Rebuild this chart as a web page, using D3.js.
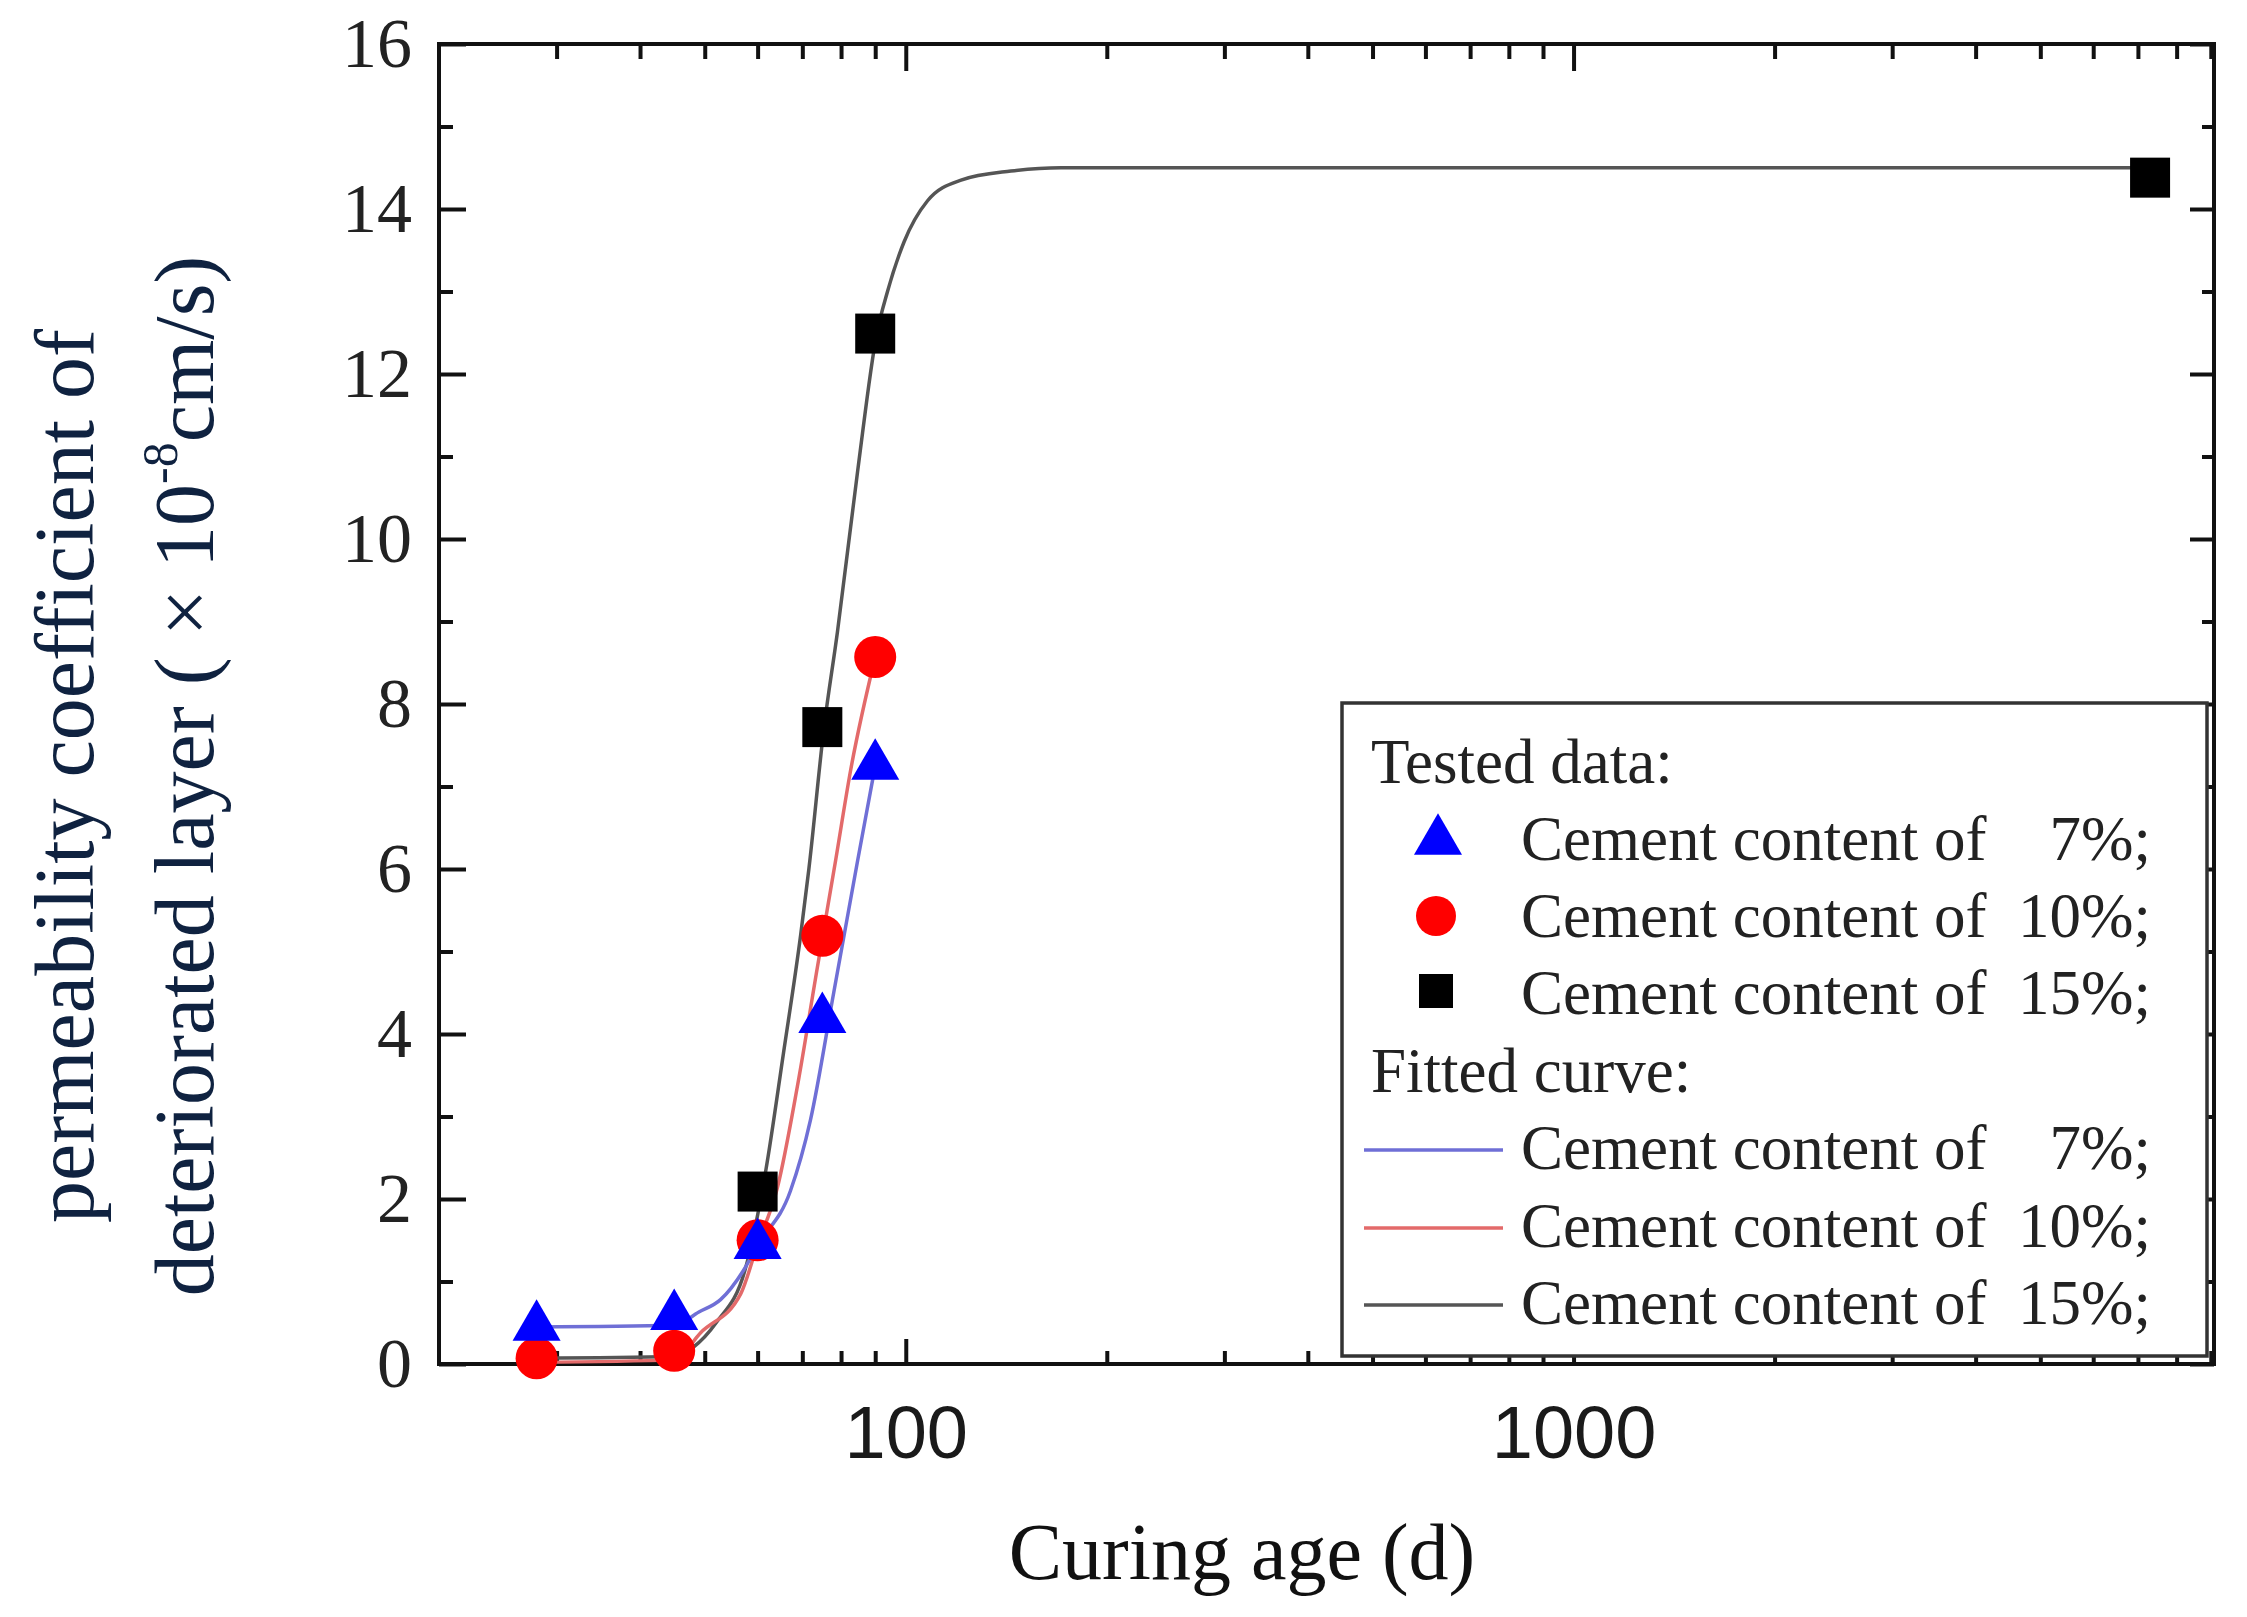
<!DOCTYPE html>
<html>
<head>
<meta charset="utf-8">
<script src="https://cdn.jsdelivr.net/npm/d3@7"></script>
<style>
  body { margin: 0; background: #fff; }
  svg { display: block; }
</style>
</head>
<body>
<svg width="2247" height="1617"></svg>
<script>
// tested points (curing age in days, permeability x1e-8 cm/s)
const ages = [28, 45, 60, 75, 90];
const tested7 = [0.45, 0.58, 1.44, 4.18, 7.25];
const tested10 = [0.07, 0.16, 1.5, 5.19, 8.57];
const ages15 = [60, 75, 90, 7300];
const tested15 = [2.09, 7.72, 12.49, 14.38];

// fitted curves
const fit7Ages = [28, 45, 49, 52.8, 57.2, 60, 67.2, 72, 78, 84.7, 90];
const fit7 = [0.45, 0.47, 0.63, 0.78, 1.14, 1.44, 2.1, 2.96, 4.5, 6.1, 7.25];
const fit10Ages = [28, 45, 49.3, 56.6, 60, 64.2, 68.8, 73.7, 78.5, 82.7, 90];
const fit10 = [0.02, 0.05, 0.38, 0.85, 1.45, 2.13, 3.36, 4.8, 6.1, 7.2, 8.57];
const fit15Ages = [28, 45, 48, 52, 57.5, 61.7, 65.6, 69.6, 71.6, 75.4, 79, 84.7, 90.5, 93.9, 99.4, 107.8, 121, 143.7, 170.8, 7300];
const fit15 = [0.07, 0.09, 0.2, 0.5, 1.15, 2.34, 3.77, 5.2, 6.0, 7.7, 8.87, 10.82, 12.49, 13.0, 13.6, 14.1, 14.35, 14.46, 14.5, 14.5];

const xMajor = [100, 1000];
const xMinor = [30, 40, 50, 60, 70, 80, 90, 200, 300, 400, 500, 600, 700, 800, 900,
                2000, 3000, 4000, 5000, 6000, 7000, 8000, 9000];
const yMajor = [0, 2, 4, 6, 8, 10, 12, 14, 16];
const yMinor = [1, 3, 5, 7, 9, 11, 13, 15];

const legendLabels = ["7%;", "10%;", "15%;"];

const svg = d3.select("svg");
const serif = "'Liberation Serif', 'Times New Roman', serif";
const sans = "'Liberation Sans', Arial, sans-serif";

const L = 439, R = 2214, T = 44, B = 1364;
const x = d3.scaleLog().domain([20, 9100]).range([L, R]);
const y = d3.scaleLinear().domain([0, 16]).range([B, T]);

const zip = (a, b) => a.map((v, i) => [v, b[i]]);

// axes: ticks point inward on all four sides
function styleAxis(g) {
  g.select(".domain").remove();
  g.selectAll(".tick line").attr("stroke", "#111").attr("stroke-width", 4);
}
svg.append("g").attr("transform", `translate(0,${B})`)
  .call(d3.axisBottom(x).tickValues(xMajor).tickSize(-25).tickPadding(41).tickFormat(d3.format("d")))
  .call(styleAxis)
  .selectAll("text").attr("font-family", sans).attr("font-size", 74).attr("fill", "#1a1a1a");
svg.append("g").attr("transform", `translate(0,${B})`)
  .call(d3.axisBottom(x).tickValues(xMinor).tickSize(-13).tickFormat(""))
  .call(styleAxis);
svg.append("g").attr("transform", `translate(0,${T})`)
  .call(d3.axisTop(x).tickValues(xMajor).tickSize(-27).tickFormat(""))
  .call(styleAxis);
svg.append("g").attr("transform", `translate(0,${T})`)
  .call(d3.axisTop(x).tickValues(xMinor).tickSize(-15).tickFormat(""))
  .call(styleAxis);
svg.append("g").attr("transform", `translate(${L},0)`)
  .call(d3.axisLeft(y).tickValues(yMajor).tickSize(-27).tickPadding(27))
  .call(styleAxis)
  .selectAll("text").attr("font-family", serif).attr("font-size", 70).attr("fill", "#222");
svg.append("g").attr("transform", `translate(${L},0)`)
  .call(d3.axisLeft(y).tickValues(yMinor).tickSize(-14).tickFormat(""))
  .call(styleAxis);
svg.append("g").attr("transform", `translate(${R},0)`)
  .call(d3.axisRight(y).tickValues(yMajor).tickSize(-24).tickFormat(""))
  .call(styleAxis);
svg.append("g").attr("transform", `translate(${R},0)`)
  .call(d3.axisRight(y).tickValues(yMinor).tickSize(-12).tickFormat(""))
  .call(styleAxis);

svg.append("rect").attr("x", L).attr("y", T).attr("width", R - L).attr("height", B - T)
  .attr("fill", "none").attr("stroke", "#111").attr("stroke-width", 4);

// fitted curves
const line = d3.line().x(d => x(d[0])).y(d => y(d[1])).curve(d3.curveMonotoneX);
const curves = [
  {pts: zip(fit15Ages, fit15), color: "#555555"},
  {pts: zip(fit10Ages, fit10), color: "#e36a6a"},
  {pts: zip(fit7Ages, fit7), color: "#6f6fd6"}
];
svg.selectAll(".fit").data(curves).join("path")
  .attr("class", "fit")
  .attr("d", d => line(d.pts))
  .attr("fill", "none").attr("stroke", d => d.color).attr("stroke-width", 3.5);

// tested markers: squares, circles, then triangles on top
svg.selectAll(".sq").data(zip(ages15, tested15)).join("rect")
  .attr("class", "sq")
  .attr("x", d => x(d[0]) - 20).attr("y", d => y(d[1]) - 20)
  .attr("width", 40).attr("height", 40).attr("fill", "#000");
svg.selectAll(".ci").data(zip(ages, tested10)).join("circle")
  .attr("class", "ci")
  .attr("cx", d => x(d[0])).attr("cy", d => y(d[1])).attr("r", 21).attr("fill", "#ff0000");
const tri = d3.symbol().type(d3.symbolTriangle).size(1000);
svg.selectAll(".tr").data(zip(ages, tested7)).join("path")
  .attr("class", "tr")
  .attr("d", tri)
  .attr("transform", d => `translate(${x(d[0])},${y(d[1])})`)
  .attr("fill", "#0000ff");

// axis titles
svg.append("text").attr("x", 1242).attr("y", 1579).attr("text-anchor", "middle")
  .attr("font-family", serif).attr("font-size", 80).attr("fill", "#111")
  .text("Curing age (d)");

const yt = svg.append("g").attr("font-family", serif).attr("font-size", 84).attr("fill", "#0f2240")
  .attr("text-anchor", "middle");
yt.append("text").attr("transform", "translate(93,776) rotate(-90)")
  .text("permeability coefficient of");
const t2 = yt.append("text").attr("transform", "translate(213,776) rotate(-90)");
t2.append("tspan").text("deteriorated layer ( \u00d7 10");
t2.append("tspan").attr("font-size", 50).attr("dy", -36).text("-8");
t2.append("tspan").attr("dy", 36).text("cm/s)");

// legend
const lg = svg.append("g").attr("font-family", serif).attr("font-size", 63).attr("fill", "#222");
lg.append("rect").attr("x", 1342).attr("y", 703).attr("width", 865).attr("height", 653)
  .attr("fill", "#fff").attr("stroke", "#333").attr("stroke-width", 3.5);
const rowY = [783, 860, 937, 1014, 1092, 1169, 1247, 1324];
lg.append("text").attr("x", 1371).attr("y", rowY[0]).text("Tested data:");
lg.append("text").attr("x", 1371).attr("y", rowY[4]).text("Fitted curve:");

lg.append("path").attr("d", tri)
  .attr("transform", `translate(1438,${rowY[1] - 19})`).attr("fill", "#0000ff");
lg.append("circle").attr("cx", 1436).attr("cy", rowY[2] - 21).attr("r", 20).attr("fill", "#ff0000");
lg.append("rect").attr("x", 1419).attr("y", rowY[3] - 40).attr("width", 34).attr("height", 34).attr("fill", "#000");

const lineColors = ["#6f6fd6", "#e36a6a", "#555555"];
lineColors.forEach((c, i) => {
  lg.append("line").attr("x1", 1364).attr("x2", 1503)
    .attr("y1", rowY[5 + i] - 19).attr("y2", rowY[5 + i] - 19)
    .attr("stroke", c).attr("stroke-width", 3.5);
});

[1, 2, 3, 5, 6, 7].forEach((r, i) => {
  lg.append("text").attr("x", 1521).attr("y", rowY[r]).text("Cement content of");
  lg.append("text").attr("x", 2151).attr("y", rowY[r]).attr("text-anchor", "end")
    .text(legendLabels[i % 3]);
});
</script>
</body>
</html>
